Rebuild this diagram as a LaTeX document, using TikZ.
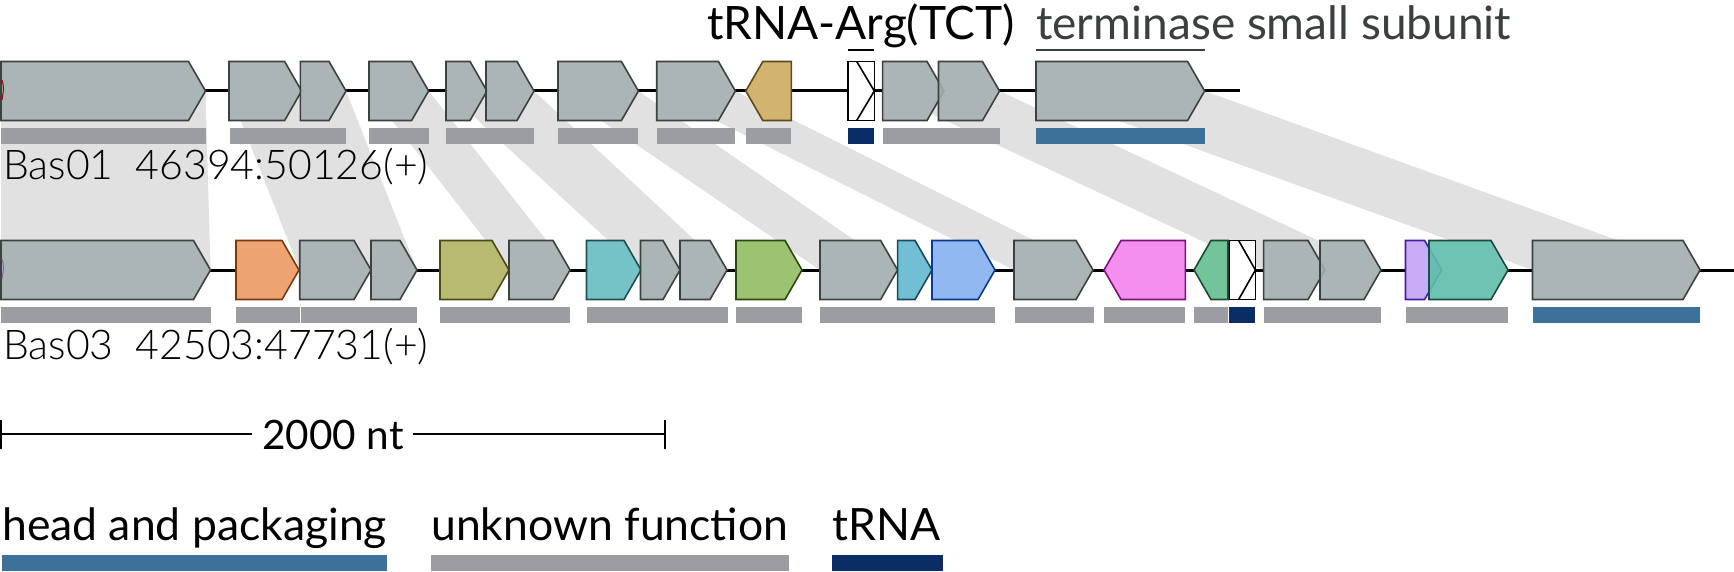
\documentclass[tikz,border=0pt]{standalone}
\usepackage{fontspec}
\setmainfont{Lato}
\IfFontExistsTF{Lato Light}{\newfontfamily\lightfont{Lato Light}}{\newfontfamily\lightfont{Lato}}
\definecolor{gfill}{HTML}{A4ADAE}
\definecolor{gline}{HTML}{3C4141}
\definecolor{band}{HTML}{E1E1E1}
\definecolor{unk}{HTML}{9C9DA1}
\definecolor{headc}{HTML}{3D7199}
\definecolor{trnac}{HTML}{0B2D65}
\definecolor{tanf}{HTML}{CEAC61}\definecolor{tanl}{HTML}{5C4A1E}
\definecolor{oraf}{HTML}{EC9A63}\definecolor{oral}{HTML}{7A3A10}
\definecolor{olif}{HTML}{B1B362}\definecolor{olil}{HTML}{4A4A1A}
\definecolor{tealf}{HTML}{66BDC0}\definecolor{teall}{HTML}{1F5050}
\definecolor{grnf}{HTML}{92BC63}\definecolor{grnl}{HTML}{2A4A10}
\definecolor{lbluf}{HTML}{63B9D1}\definecolor{lblul}{HTML}{1A4A5A}
\definecolor{bluf}{HTML}{87B1F1}\definecolor{blul}{HTML}{0A3A8A}
\definecolor{magf}{HTML}{F183EE}\definecolor{magl}{HTML}{7A127A}
\definecolor{mgrf}{HTML}{62BF8D}\definecolor{mgrl}{HTML}{1F4A30}
\definecolor{lavf}{HTML}{C2A5F4}\definecolor{lavl}{HTML}{4A1AA0}
\definecolor{tl2f}{HTML}{60BDAB}\definecolor{tl2l}{HTML}{1F4A40}
\definecolor{labgrey}{HTML}{3A3F3F}
\tikzset{
  genestyle/.style={line width=1.6pt, line join=miter, fill opacity=0.9},
  knockout/.style={fill=white, draw=none},
  barstyle/.style={fill=#1, draw=none},
  backbone/.style={line width=3pt, black},
}
% forward gene knockout / coloured: x1 x2 ymid fill line
\newcommand\fgene[5]{%
  \pgfmathsetmacro\hx{max(#1,#2-17)}%
  \fill[knockout] (#1,#3-29.5) -- (\hx,#3-29.5) -- (#2,#3) -- (\hx,#3+29.5) -- (#1,#3+29.5) -- cycle;}
\newcommand\fgeneC[5]{%
  \pgfmathsetmacro\hx{max(#1,#2-17)}%
  \draw[genestyle, fill=#4, draw=#5] (#1,#3-29.5) -- (\hx,#3-29.5) -- (#2,#3) -- (\hx,#3+29.5) -- (#1,#3+29.5) -- cycle;}
% reverse gene knockout / coloured
\newcommand\rgene[5]{%
  \pgfmathsetmacro\hx{min(#2,#1+17)}%
  \fill[knockout] (#2,#3-29.5) -- (\hx,#3-29.5) -- (#1,#3) -- (\hx,#3+29.5) -- (#2,#3+29.5) -- cycle;}
\newcommand\rgeneC[5]{%
  \pgfmathsetmacro\hx{min(#2,#1+17)}%
  \draw[genestyle, fill=#4, draw=#5] (#2,#3-29.5) -- (\hx,#3-29.5) -- (#1,#3) -- (\hx,#3+29.5) -- (#2,#3+29.5) -- cycle;}
% tRNA box: x1 x2 xdiag ymid
\newcommand\trnabox[4]{%
  \draw[line width=1.6pt, fill=white] (#1,#4-29.5) rectangle (#2,#4+29.5);
  \draw[line width=1.6pt] (#3,#4-29.5) -- (#2,#4) -- (#3,#4+29.5);}
% bar: x1 x2 ytop colour
\newcommand\gbar[4]{\fill[barstyle=#4] (#1,#3) rectangle (#2,#3+16);}
% homology band: top x1 x2, bottom x1 x2
\newcommand\hband[4]{\fill[band] (#1,91) -- (#2,91) -- (#4,270) -- (#3,270) -- cycle;}
% all genes, drawn twice (knockout pass, then colour pass)
\newcommand\allgenes[2]{%
  #1{1}{205.5}{91}{gfill}{gline}
  #1{229}{301.6}{91}{gfill}{gline}
  #1{300.4}{346}{91}{gfill}{gline}
  #1{369}{428.6}{91}{gfill}{gline}
  #1{446}{487}{91}{gfill}{gline}
  #1{486}{534}{91}{gfill}{gline}
  #1{558}{638.4}{91}{gfill}{gline}
  #1{656.7}{735.4}{91}{gfill}{gline}
  #2{745.8}{791.4}{91}{tanf}{tanl}
  #1{882.6}{944}{91}{gfill}{gline}
  #1{938.5}{999.5}{91}{gfill}{gline}
  #1{1036}{1204.6}{91}{gfill}{gline}
  #1{1}{210.5}{270}{gfill}{gline}
  #1{236}{299}{270}{oraf}{oral}
  #1{299.7}{371}{270}{gfill}{gline}
  #1{371}{417}{270}{gfill}{gline}
  #1{440}{509}{270}{olif}{olil}
  #1{509}{570}{270}{gfill}{gline}
  #1{586.5}{641}{270}{tealf}{teall}
  #1{640.5}{680}{270}{gfill}{gline}
  #1{680}{727}{270}{gfill}{gline}
  #1{736}{802}{270}{grnf}{grnl}
  #1{820}{897.6}{270}{gfill}{gline}
  #1{897.6}{932}{270}{lbluf}{lblul}
  #1{932}{995}{270}{bluf}{blul}
  #1{1014}{1093}{270}{gfill}{gline}
  #2{1104}{1185.4}{270}{magf}{magl}
  #2{1194}{1228}{270}{mgrf}{mgrl}
  #1{1263.6}{1325}{270}{gfill}{gline}
  #1{1320}{1381}{270}{gfill}{gline}
  #1{1405.5}{1441.6}{270}{lavf}{lavl}
  #1{1429}{1508}{270}{tl2f}{tl2l}
  #1{1532.5}{1700}{270}{gfill}{gline}
}
\begin{document}
\begin{tikzpicture}[x=1pt,y=-1pt]
\useasboundingbox (0,0) rectangle (1734,572);
% homology bands (grey gene -> grey gene)
\hband{1}{205.5}{1}{210.5}
\hband{229}{301.6}{299.7}{371}
\hband{300.4}{346}{371}{417}
\hband{369}{428.6}{509}{570}
\hband{446}{487}{640.5}{680}
\hband{486}{534}{680}{727}
\hband{558}{638.4}{820}{897.6}
\hband{656.7}{735.4}{1014}{1093}
\hband{882.6}{944}{1263.6}{1325}
\hband{938.5}{999.5}{1320}{1381}
\hband{1036}{1204.6}{1532.5}{1700}
% backbones
\draw[backbone] (1,91) coordinate (t0) -- (1240,91) coordinate (t1);
\draw[backbone] (1,270) coordinate (b0) -- (1734,270) coordinate (b1);
% genes
\allgenes{\fgene}{\rgene}
\allgenes{\fgeneC}{\rgeneC}
\draw[line width=1pt, color=red!60!black] (2,80) .. controls (4,88) .. (2,100);
\draw[line width=1pt, color=magl!70!white] (2,259) .. controls (4,267) .. (2,279);
\trnabox{848}{874.3}{856.7}{91}
\trnabox{1229.3}{1255.4}{1238.6}{270}
% top bars
\gbar{1}{205.5}{128}{unk}
\gbar{229.6}{346}{128}{unk}
\gbar{369}{428.6}{128}{unk}
\gbar{446}{534}{128}{unk}
\gbar{558}{638}{128}{unk}
\gbar{656.7}{735}{128}{unk}
\gbar{745.8}{791.4}{128}{unk}
\gbar{848}{874.3}{128}{trnac}
\gbar{883.4}{999.5}{128}{unk}
\gbar{1036}{1204.6}{128}{headc}
% bottom bars
\gbar{1}{211}{307}{unk}
\gbar{236}{299.5}{307}{unk}
\gbar{300.5}{417}{307}{unk}
\gbar{440}{570}{307}{unk}
\gbar{586.5}{728}{307}{unk}
\gbar{736}{802}{307}{unk}
\gbar{820}{995}{307}{unk}
\gbar{1015}{1093.6}{307}{unk}
\gbar{1104}{1184.6}{307}{unk}
\gbar{1194}{1228}{307}{unk}
\gbar{1229.3}{1255.4}{307}{trnac}
\gbar{1264}{1381}{307}{unk}
\gbar{1405.5}{1508}{307}{unk}
\gbar{1532.5}{1700}{307}{headc}
% gene labels
\node[anchor=base, inner sep=0, font=\fontsize{46}{52}\selectfont] (lt) at (861,40) {tRNA-Arg(TCT)};
\draw[line width=1.5pt] (848,50) -- (874.3,50);
\node[anchor=base west, inner sep=0, text=labgrey, font=\fontsize{46}{52}\selectfont] (lterm) at (1036,40) {terminase small subunit};
\draw[line width=1.5pt, labgrey] (1036,50) -- (1204.6,50);
% region labels
\node[anchor=base west, inner sep=0, font=\lightfont\fontsize{41}{47}\selectfont] (l1) at (3,180) {Bas01\ \ 46394:50126(+)};
\node[anchor=base west, inner sep=0, font=\lightfont\fontsize{41}{47}\selectfont] (l2) at (3,359) {Bas03\ \ 42503:47731(+)};
% scale bar
\node[inner sep=0, anchor=base, font=\fontsize{40.5}{46}\selectfont] (sc) at (333,449) {2000 nt};
\coordinate (s0) at (1,434);
\coordinate (s1) at (665,434);
\draw[line width=2pt] (s0) -- (252,434);
\draw[line width=2pt] (413,434) -- (s1);
\draw[line width=2pt] (1,420) -- (1,449);
\draw[line width=2pt] (665,420) -- (665,449);
% legend
\node[anchor=base west, inner sep=0, font=\fontsize{44.5}{50}\selectfont] (lg1) at (2,540) {head and packaging};
\node[anchor=base west, inner sep=0, font=\fontsize{44.5}{50}\selectfont] (lg2) at (431,540) {unknown function};
\node[anchor=base west, inner sep=0, font=\fontsize{44.5}{50}\selectfont] (lg3) at (832,540) {tRNA};
\gbar{2}{387}{555}{headc}
\gbar{431}{789}{555}{unk}
\gbar{832}{943}{555}{trnac}
\end{tikzpicture}
\end{document}
